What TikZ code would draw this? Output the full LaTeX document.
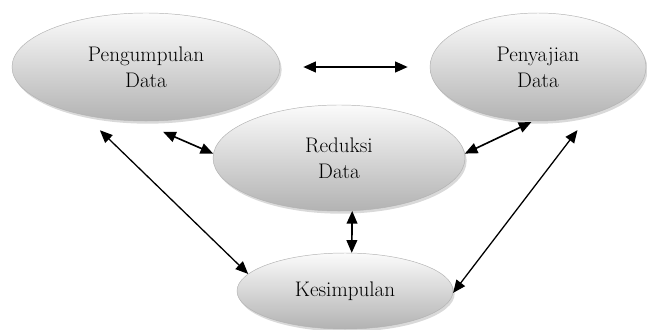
\documentclass[tikz,border=0pt]{standalone}
\usetikzlibrary{shapes.geometric,shadows,arrows.meta}

\begin{document}
\begin{tikzpicture}[x=0.03cm,y=-0.03cm,
  stage/.style={ellipse,draw=gray!60,thin,top color=gray!3,bottom color=gray!60,
    drop shadow={shadow xshift=0.05cm,shadow yshift=-0.08cm,opacity=0.3},
    align=center,inner sep=0pt,font=\fontsize{18}{22}\selectfont},
  link/.style={{Triangle[length=0.38cm,width=0.32cm]}-{Triangle[length=0.38cm,width=0.32cm]},line width=1.1pt}]
\useasboundingbox (0,0) rectangle (647,329);

% stages
\node[stage,minimum width=8.04cm,minimum height=3.24cm] (pd) at (146,67) {Pengumpulan\\Data};
\node[stage,minimum width=6.48cm,minimum height=3.24cm] (ps) at (538,67) {Penyajian\\Data};
\node[stage,minimum width=7.56cm,minimum height=3.18cm] (rd) at (339,158) {Reduksi\\Data};
\node[stage,minimum width=6.48cm,minimum height=2.28cm] (ks) at (345,291) {Kesimpulan};

% links
\draw[link,line width=1.8pt,shorten <=0.69cm,shorten >=0.66cm] (pd.east) -- (ps.west);
\draw[link,line width=1.4pt,shorten <=0.81cm] (pd.-98) -- (rd.178);
\draw[link,line width=1.4pt,shorten >=0.06cm] (rd.2) -- (ps.-95);
\draw[link,shorten <=0.65cm] (pd.-142) -- (ks.170);
\draw[link,shorten <=0.58cm] (ps.-43) -- (ks.-1);
\draw[link,line width=1.4pt] (rd.-76) -- (ks.80);

\end{tikzpicture}
\end{document}
